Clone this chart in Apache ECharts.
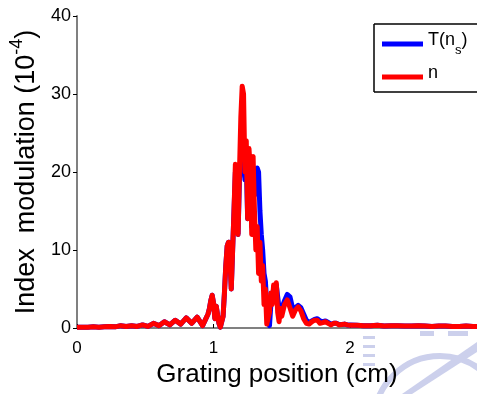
<!DOCTYPE html>
<html>
<head>
<meta charset="utf-8">
<script src="https://cdn.jsdelivr.net/npm/echarts@6/dist/echarts.min.js"></script>
<style>
html,body{margin:0;padding:0;background:#fff;overflow:hidden;}
#c{width:477px;height:394px;}
</style>
</head>
<body>
<div id="c"></div>
<script>
// Grating position (cm)
var xs = [
 0.00,0.04,0.08,0.12,0.16,0.20,0.24,0.28,0.32,0.36,0.40,0.44,0.48,0.52,0.56,0.60,0.64,0.68,0.72,0.76,0.80,0.84,0.88,0.92,0.96,
 0.97,0.98,0.99,1.00,1.01,1.02,1.03,1.04,1.05,1.06,1.07,1.08,1.09,1.10,1.11,1.12,1.13,1.14,1.15,1.16,1.17,1.18,1.19,1.20,
 1.21,1.22,1.23,1.24,1.25,1.26,1.27,1.28,1.29,1.30,1.31,1.32,1.33,1.34,1.35,1.36,1.37,1.38,1.39,1.40,1.41,1.42,1.43,1.44,
 1.45,1.46,1.47,1.48,1.49,1.50,
 1.52,1.54,1.56,1.58,1.60,1.62,1.64,1.66,1.68,1.70,1.72,1.74,1.76,1.78,1.80,1.82,1.84,1.86,1.88,1.90,1.92,1.94,1.96,1.98,2.00,
 2.05,2.10,2.15,2.20,2.25,2.30,2.35,2.40,2.45,2.50,2.55,2.60,2.65,2.70,2.75,2.80,2.85,2.90,2.95
];
// n (red), index modulation in 1e-4
var nVals = [
 0.1,0.1,0.1,0.15,0.1,0.15,0.2,0.15,0.3,0.2,0.3,0.2,0.4,0.2,0.6,0.3,0.8,0.4,1.0,0.5,1.3,0.6,1.4,0.3,1.8,
 2.5,3.5,4.2,3.2,1.2,2.8,1.6,0.6,0.1,0.2,1.5,4.5,8,10.5,11,9,5,10,15,21,16,12,20,27,
 31,30,20,24,14,23,20,12,22,15,10,13,7,11,6,8,3,5,0.5,0.3,2,4.5,3,5.5,
 4.5,5.8,2,0.8,2.5,1.5,
 3,3.6,2.6,1.5,2.3,2.7,2.2,1.2,0.6,0.5,0.8,1.0,1.0,0.6,0.7,0.8,0.6,0.4,0.6,0.6,0.4,0.45,0.5,0.4,0.35,
 0.35,0.3,0.3,0.35,0.25,0.3,0.3,0.25,0.25,0.3,0.25,0.2,0.25,0.25,0.2,0.2,0.25,0.2,0.2
];
// T(n_s) (blue)
var tVals = [
 0.1,0.1,0.1,0.15,0.1,0.15,0.2,0.15,0.3,0.2,0.3,0.2,0.4,0.2,0.6,0.3,0.8,0.4,1.0,0.5,1.3,0.6,1.4,0.3,1.8,
 2.5,3.5,4.2,3.2,1.2,2.8,1.6,0.6,0.1,0.2,1.5,4.5,8,10.5,11,9,5,10,15,20,16,12,19,22,
 24,22,19,21,14,20,19,13,19,17,18,20.5,20,15,12,10,7,6,3,1,0.3,3,4,5,
 5,5.5,4,2.5,1.5,2.5,
 3.5,4.3,4.0,2.5,2.6,2.9,2.6,1.8,1.0,0.7,0.9,1.1,1.2,0.9,0.8,0.9,0.7,0.5,0.6,0.6,0.45,0.45,0.5,0.4,0.4,
 0.35,0.3,0.3,0.35,0.25,0.3,0.3,0.25,0.25,0.3,0.25,0.2,0.25,0.25,0.2,0.2,0.25,0.2,0.2
];
var yTicks = [0, 10, 20, 30, 40];
var xTicks = [0, 1, 2];

function pairs(v){ return xs.map(function(x,i){ return [x, v[i]]; }); }

var FONT = "'Liberation Sans', Arial, sans-serif";
var WM = '#ccd0ec';
var chart = echarts.init(document.getElementById('c'), null, {renderer:'canvas', width:477, height:394});
chart.setOption({
  animation:false,
  backgroundColor:'#fff',
  graphic:[
    {type:'group', z:-10, silent:true, children:[
      {type:'circle', shape:{cx:440, cy:422, r:66}, style:{fill:'none', stroke:WM, lineWidth:6}},
      {type:'rect', shape:{x:363, y:336, width:12, height:3}, style:{fill:WM}},
      {type:'rect', shape:{x:363, y:345, width:12, height:3}, style:{fill:WM}},
      {type:'rect', shape:{x:363, y:354, width:12, height:3}, style:{fill:WM}},
      {type:'rect', shape:{x:363, y:363, width:12, height:3}, style:{fill:WM}},
      {type:'rect', shape:{x:420, y:331, width:14, height:5}, style:{fill:WM}},
      {type:'rect', shape:{x:448, y:331, width:20, height:5}, style:{fill:WM}},
      {type:'polygon', shape:{points:[[402,394],[412,394],[477,352],[477,342]]}, style:{fill:WM}}
    ]},
    {type:'rect', z:5, silent:true, shape:{x:374, y:24, width:103, height:68},
     style:{fill:'#fff', stroke:null, lineWidth:0}},
    {type:'line', z:5, silent:true, shape:{x1:374, y1:24, x2:477, y2:24},
     style:{stroke:'#000', lineWidth:1.5}},
    {type:'line', z:5, silent:true, shape:{x1:374, y1:92, x2:477, y2:92},
     style:{stroke:'#000', lineWidth:1.5}},
    {type:'line', z:5, silent:true, shape:{x1:374, y1:24, x2:374, y2:92},
     style:{stroke:'#000', lineWidth:1.5}}
  ],
  grid:{left:77, right:0, top:16, bottom:66, containLabel:false},
  xAxis:{
    type:'value', min:0, max:2.93, interval:1,
    name:'Grating position (cm)', nameLocation:'middle', nameGap:29,
    nameTextStyle:{fontFamily:FONT, fontSize:26, color:'#000'},
    axisLine:{show:true, lineStyle:{color:'#808080', width:2}},
    axisTick:{show:true, inside:true, length:4, lineStyle:{color:'#000'}},
    axisLabel:{fontFamily:FONT, fontSize:17, color:'#000', margin:12, showMaxLabel:false,
      formatter:function(v){ return xTicks.indexOf(v) >= 0 ? String(v) : ''; }},
    splitLine:{show:false}
  },
  yAxis:{
    type:'value', min:0, max:40, interval:10,
    name:'{a|Index  modulation (10}{s|-4}{a|)}', nameLocation:'middle', nameGap:34, nameRotate:90,
    nameTextStyle:{fontFamily:FONT, fontSize:27, color:'#000',
      rich:{a:{fontFamily:FONT, fontSize:27, color:'#000', verticalAlign:'bottom', lineHeight:32},
            s:{fontFamily:FONT, fontSize:18, color:'#000', verticalAlign:'top', lineHeight:32}}},
    axisLine:{show:true, lineStyle:{color:'#808080', width:2}},
    axisTick:{show:true, inside:false, length:4, lineStyle:{color:'#000'}},
    axisLabel:{fontFamily:FONT, fontSize:18, color:'#000', margin:6,
      formatter:function(v){ return yTicks.indexOf(v) >= 0 ? String(v) : ''; }},
    splitLine:{show:false}
  },
  legend:{
    orient:'vertical', left:374, top:24, z:6,
    padding:[7, 4, 5, 8], itemGap:7,
    borderWidth:0, backgroundColor:'transparent',
    itemWidth:41, itemHeight:5, icon:'rect',
    data:['T(n_s)','n'],
    formatter:function(name){ return name === 'T(n_s)' ? '{a|T(n}{s|s}{a|)}' : '{a|n}'; },
    textStyle:{fontFamily:FONT, fontSize:18, color:'#000',
      rich:{a:{fontFamily:FONT, fontSize:18, color:'#000', verticalAlign:'top', lineHeight:26},
            s:{fontFamily:FONT, fontSize:13, color:'#000', verticalAlign:'bottom', lineHeight:26}}}
  },
  series:[
    {name:'T(n_s)', type:'line', data:pairs(tVals), showSymbol:false, symbol:'none',
     lineStyle:{color:'#0000ff', width:5, join:'round'}, itemStyle:{color:'#0000ff'}, z:2},
    {name:'n', type:'line', data:pairs(nVals), showSymbol:false, symbol:'none',
     lineStyle:{color:'#ff0000', width:5, join:'round'}, itemStyle:{color:'#ff0000'}, z:3}
  ]
});
</script>
</body>
</html>
